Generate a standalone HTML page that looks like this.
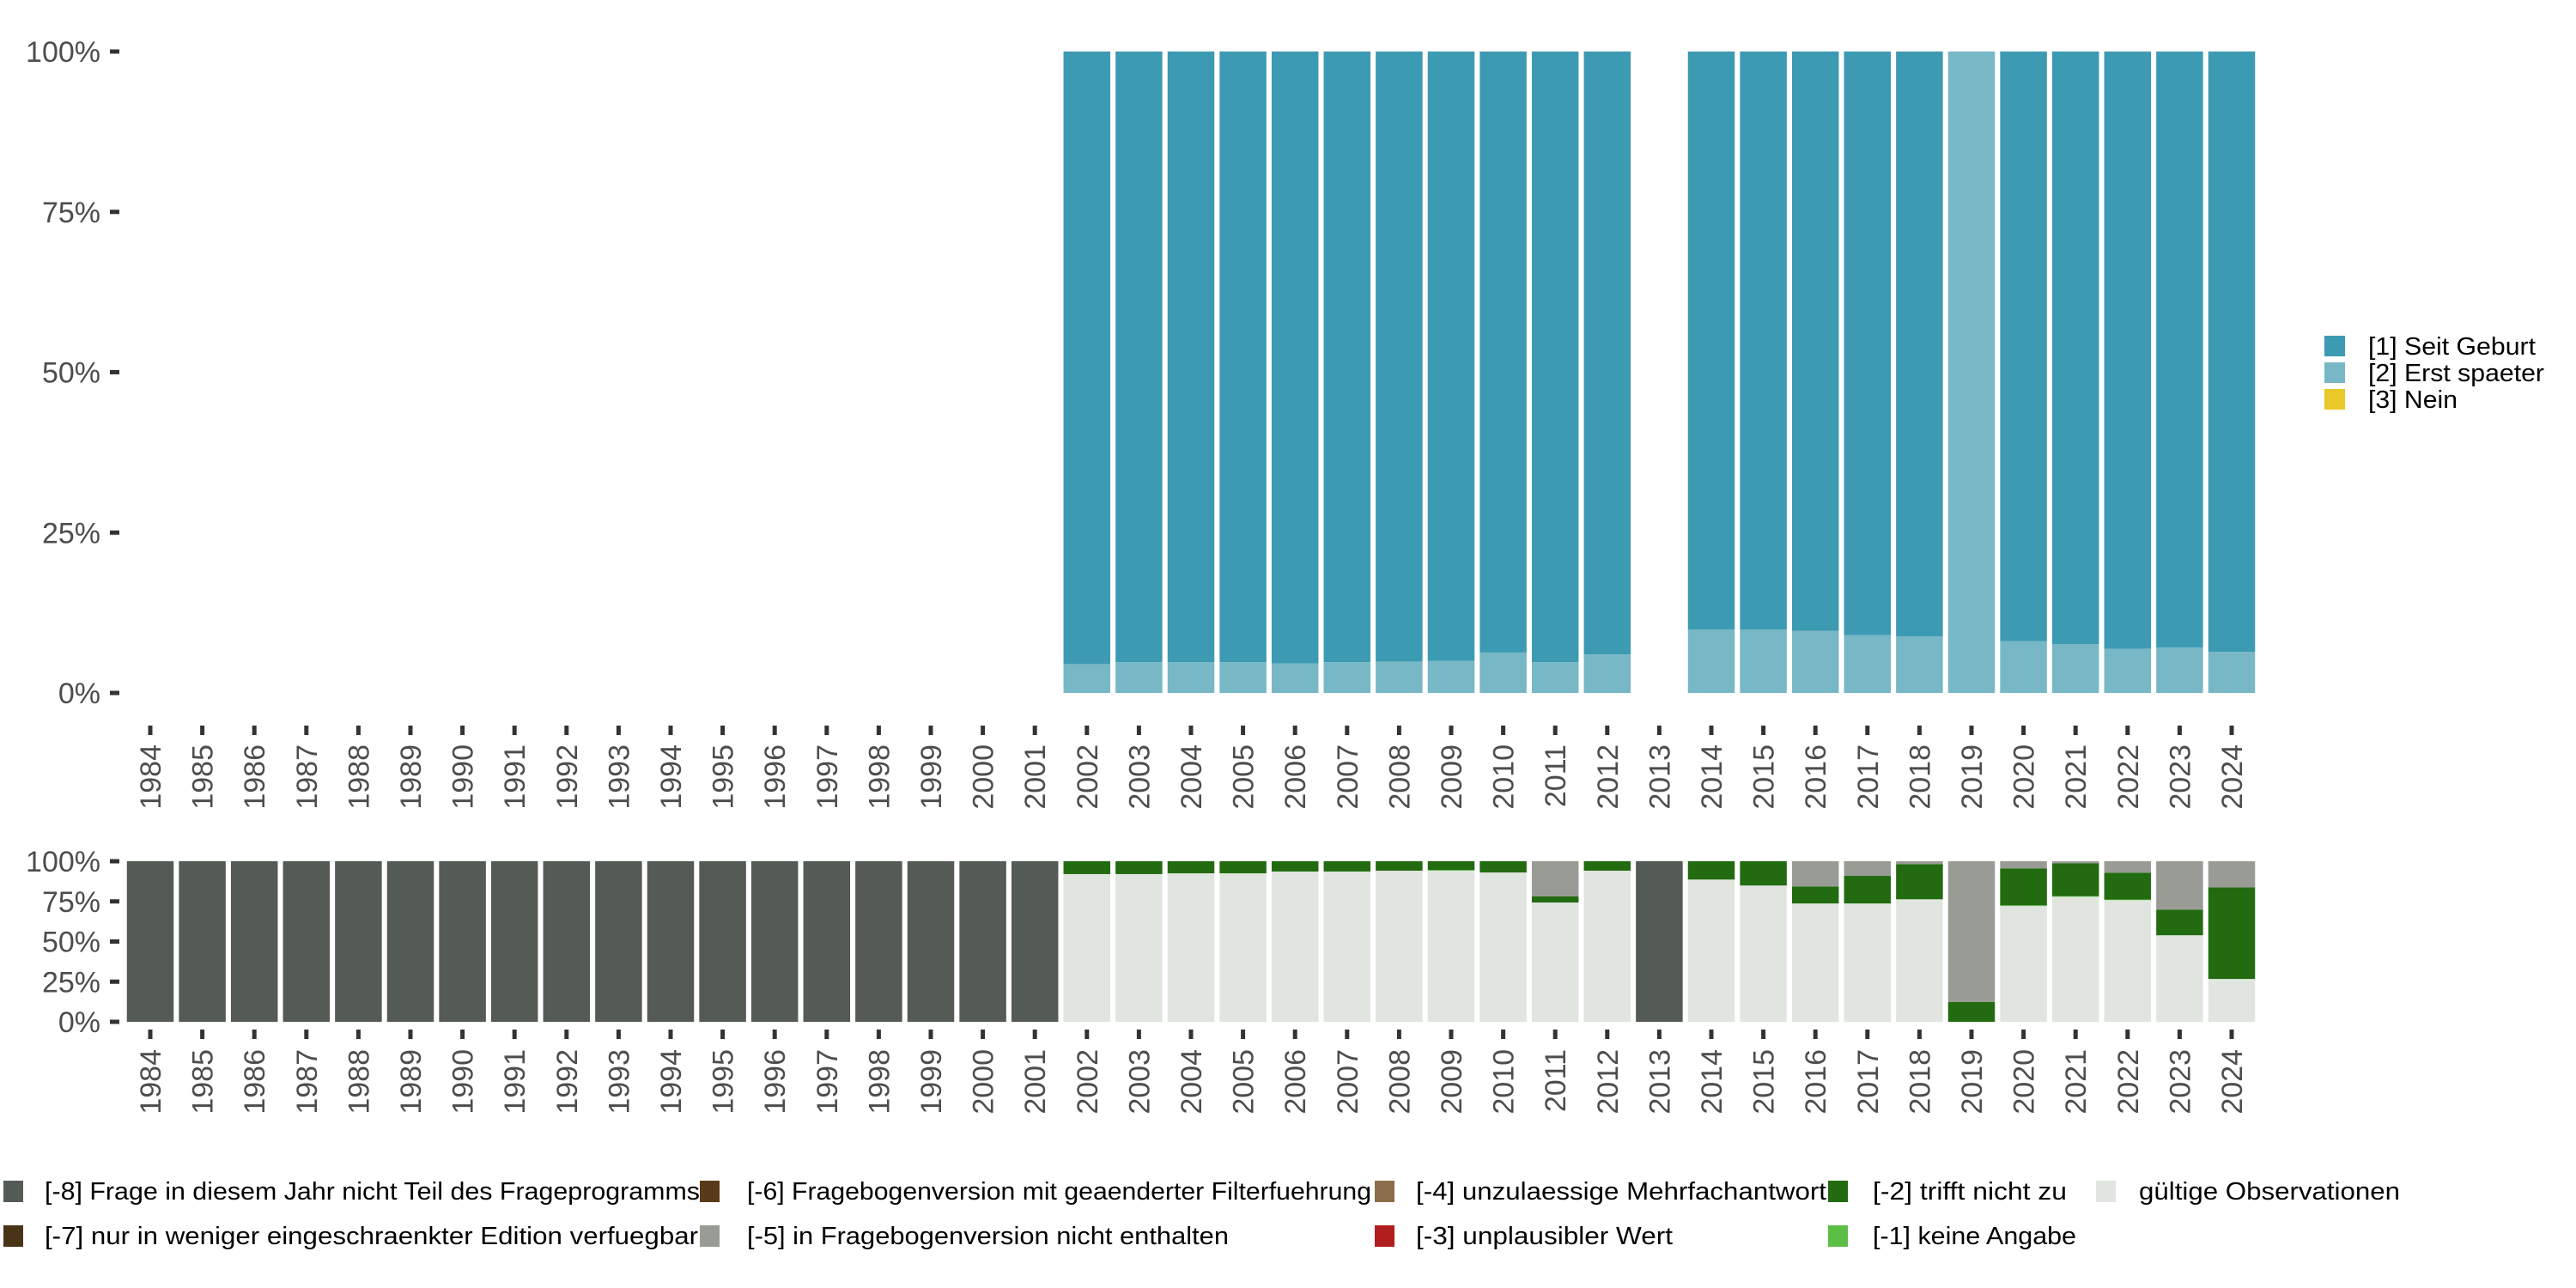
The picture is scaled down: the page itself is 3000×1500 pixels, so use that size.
<!DOCTYPE html>
<html><head><meta charset="utf-8"><style>
html,body{margin:0;padding:0;background:#fff;}
svg{display:block;font-family:"Liberation Sans",sans-serif;}
</style></head><body>
<svg id="chart" width="3000" height="1500" viewBox="0 0 3000 1500" xmlns="http://www.w3.org/2000/svg"></svg>
<script>
const years = [];
for (let y = 1984; y <= 2024; y++) years.push(y);
// top panel: share (%) of [2] Erst spaeter; rest is [1] Seit Geburt; null = no data
const erstSpaeter = [null,null,null,null,null,null,null,null,null,null,null,null,null,null,null,null,null,null,
  4.5,4.8,4.8,4.8,4.6,4.8,4.9,5.0,6.3,4.8,6.0,null,9.9,9.9,9.7,9.0,8.8,100,8.1,7.6,6.9,7.1,6.4];
const seitGeburt = erstSpaeter.map(v => v === null ? null : 100 - v);
const nein = erstSpaeter.map(v => v === null ? null : 0);
// bottom panel series (percent)
const nichtTeil = [100,100,100,100,100,100,100,100,100,100,100,100,100,100,100,100,100,100,
  0,0,0,0,0,0,0,0,0,0,0,100,0,0,0,0,0,0,0,0,0,0,0];
const nichtEnthalten = [0,0,0,0,0,0,0,0,0,0,0,0,0,0,0,0,0,0,
  0,0,0,0,0,0,0,0,0,21.9,0,0,0,0,15.7,9.1,1.8,87.7,4.4,1.2,7.1,30.1,16.2];
const trifftNicht = [0,0,0,0,0,0,0,0,0,0,0,0,0,0,0,0,0,0,
  8.0,8.0,7.5,7.5,6.4,6.4,5.9,5.4,7.0,3.8,5.9,0,11.4,15.1,10.6,17.2,21.9,12.3,23.0,20.5,16.7,16.0,57.1];
const keineAngabe = [0,0,0,0,0,0,0,0,0,0,0,0,0,0,0,0,0,0,
  0,0,0,0,0,0,0,0.5,0,0,0,0,0,0,0,0,0,0,0.5,0.4,0.4,0,0];
const gueltig = [0,0,0,0,0,0,0,0,0,0,0,0,0,0,0,0,0,0,
  92.0,92.0,92.5,92.5,93.6,93.6,94.1,94.1,93.0,74.3,94.1,0,88.6,84.9,73.7,73.7,76.3,0,72.1,77.9,75.8,53.9,26.7];
const yTicks = [0,25,50,75,100];
const yTickLabels = ["0%","25%","50%","75%","100%"];

const svg = document.getElementById('chart');
const NS = 'http://www.w3.org/2000/svg';
function mk(tag, attrs, parent){const e=document.createElementNS(NS,tag);for(const k in attrs)e.setAttribute(k,attrs[k]);(parent||svg).appendChild(e);return e;}

const x0 = 175, pitch = 60.6, bw = 54.5;
const xC = i => x0 + i*pitch;
const topY = v => 807 - v/100*747;
const botY = v => 1190 - v/100*187;

function axes(yf, tickY1, labY, prefix){
  const g = mk('g',{});
  
  
  yTicks.forEach((t,k)=>{
    const l = mk('line',{x1:128,x2:139,y1:yf(t),y2:yf(t),stroke:'#333','stroke-width':5},g);
    
    
    const tx = mk('text',{x:117,y:yf(t)+12,'text-anchor':'end','font-size':34,fill:'#4d4d4d'},g);
    tx.textContent = yTickLabels[k];
    
    
  });
  years.forEach((yr,i)=>{
    const l = mk('line',{x1:xC(i),x2:xC(i),y1:tickY1,y2:tickY1+11,stroke:'#333','stroke-width':5},g);
    
    
    const tx = mk('text',{x:0,y:0,'text-anchor':'end','font-size':34,fill:'#4d4d4d',transform:`translate(${xC(i)+12},${labY}) rotate(-90)`},g);
    tx.textContent = yr;
    
    
  });
}

function stack(series, colors, names, yf, prefix){
  years.forEach((yr,i)=>{
    let base = 0;
    series.forEach((s,k)=>{
      const v = s[i];
      if (v === null || v <= 0) return;
      const r = mk('rect',{x:xC(i)-bw/2,y:yf(base+v),width:bw,height:yf(base)-yf(base+v),fill:colors[k]});
      
      
      base += v;
    });
  });
}

axes(topY, 845, 867, 'top');
axes(botY, 1199, 1222, 'bottom');
stack([erstSpaeter, seitGeburt, nein], ['#78b7c6','#3c9ab2','#e9c829'], ['erst-spaeter','seit-geburt','nein'], topY, 'top');
stack([gueltig, keineAngabe, trifftNicht, nichtEnthalten, nichtTeil],
  ['#e1e5e0','#5bbf45','#226b10','#999c95','#535b54'],
  ['gueltig','keine-angabe','trifft-nicht-zu','nicht-enthalten','nicht-teil'], botY, 'bottom');

// top legend
const tl = [['#3c9ab2','[1] Seit Geburt',195],['#78b7c6','[2] Erst spaeter',205],['#e9c829','[3] Nein',104]];
tl.forEach((d,k)=>{
  const r = mk('rect',{x:2707,y:391+k*31,width:24,height:24,fill:d[0]});
  
  
  const t = mk('text',{x:2758,y:413+k*31,'font-size':29,fill:'#000',textLength:d[2],lengthAdjust:'spacingAndGlyphs'});
  t.textContent = d[1];
  
  
});
// bottom legend
const bl = [
  [4,52,0,'#535b54','[-8] Frage in diesem Jahr nicht Teil des Frageprogramms',763],
  [4,52,1,'#4a3418','[-7] nur in weniger eingeschraenkter Edition verfuegbar',761],
  [815,870,0,'#5a3a1a','[-6] Fragebogenversion mit geaenderter Filterfuehrung',727],
  [815,870,1,'#999c95','[-5] in Fragebogenversion nicht enthalten',561],
  [1601,1649,0,'#8c6d4a','[-4] unzulaessige Mehrfachantwort',478],
  [1601,1649,1,'#b01e1e','[-3] unplausibler Wert',299],
  [2129,2181,0,'#226b10','[-2] trifft nicht zu',226],
  [2129,2181,1,'#5bbf45','[-1] keine Angabe',237],
  [2441,2491,0,'#e1e5e0','gültige Observationen',304]
];
bl.forEach(d=>{
  const yc = d[2]===0 ? 1387 : 1439;
  const r = mk('rect',{x:d[0],y:yc-12,width:23,height:25,fill:d[3]});
  
  
  const t = mk('text',{x:d[1],y:yc+10,'font-size':29,fill:'#000',textLength:d[5],lengthAdjust:'spacingAndGlyphs'});
  t.textContent = d[4];
  
  
});
</script>
</body></html>
